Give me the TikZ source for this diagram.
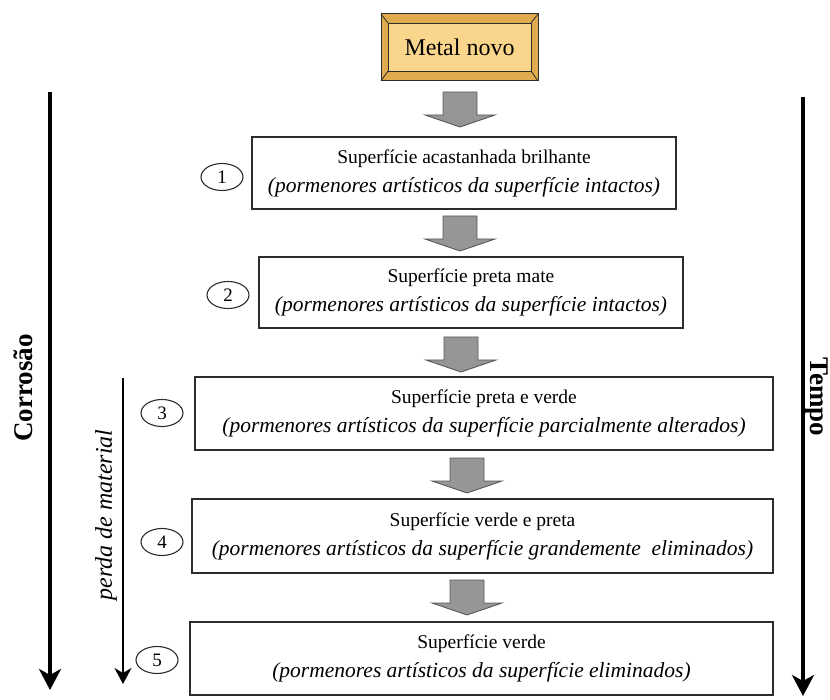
\documentclass[tikz,border=0pt]{standalone}
\usepackage{fontspec}
\setmainfont{Liberation Serif}
\usetikzlibrary{arrows.meta,shapes.geometric}
\definecolor{bevel}{RGB}{224,170,78}
\definecolor{face}{RGB}{250,214,140}
\definecolor{garrfill}{RGB}{150,150,150}
\definecolor{edge}{RGB}{45,45,45}
\newcommand{\subline}[1]{{\fontsize{21.5}{29}\selectfont\itshape #1}}
\tikzset{
  stagebox/.style={draw=edge, line width=1.1pt, fill=white, align=center, inner sep=0pt,
    font=\fontsize{19.5}{29}\selectfont},
  numoval/.style={ellipse, draw=edge, line width=1.1pt, minimum width=42pt, minimum height=27pt,
    inner sep=0pt, font=\fontsize{19}{19}\selectfont},
  bigarrow/.style={line width=4pt, -{Stealth[length=21pt,width=22pt,inset=6pt]}},
  thinarrow/.style={line width=1.4pt, -{Stealth[length=16pt,width=17pt,inset=5pt]}},
  sidelabel/.style={font=\fontsize{27}{27}\selectfont\bfseries, inner sep=0pt},
  garrstyle/.style={draw=black!65, line width=0.9pt, fill=garrfill, line join=miter},
  garr/.pic={\draw[garrstyle] (-17,0) -- (17,0) -- (17,23) -- (35,23) -- (0,35) -- (-35,23) -- (-17,23) -- cycle;}
}
\begin{document}
\begin{tikzpicture}[x=1pt,y=-1pt]
\useasboundingbox (0,0) rectangle (830,700);
% Metal novo bevelled box
\filldraw[draw=edge, line width=1pt, fill=bevel] (381,14) rectangle (538,81);
\draw[edge, line width=0.8pt] (381,14) -- (388,23) (538,14) -- (531,23) (381,81) -- (388,71) (538,81) -- (531,71);
\node[draw=edge, line width=0.8pt, fill=face, minimum width=143pt, minimum height=48pt, inner sep=0pt,
  font=\fontsize{24}{24}\selectfont] (m) at (459.5,47) {Metal novo};
% stage boxes
\node[stagebox, minimum width=424pt, minimum height=72pt] (b1) at (464,173)
  {Superfície acastanhada brilhante\\\subline{(pormenores artísticos da superfície intactos)}};
\node[stagebox, minimum width=424pt, minimum height=71pt] (b2) at (471,292.5)
  {Superfície preta mate\\\subline{(pormenores artísticos da superfície intactos)}};
\node[stagebox, minimum width=578pt, minimum height=73pt] (b3) at (484,413.5)
  {Superfície preta e verde\\\subline{(pormenores artísticos da superfície parcialmente alterados)}};
\node[stagebox, minimum width=581pt, minimum height=74pt] (b4) at (482.5,536)
  {Superfície verde e preta\\\subline{(pormenores artísticos da superfície grandemente\ \ eliminados)}};
\node[stagebox, minimum width=583pt, minimum height=73pt] (b5) at (481.5,658.5)
  {Superfície verde\\\subline{(pormenores artísticos da superfície eliminados)}};
% numbers
\node[numoval] (n1) at (222,177) {1};
\node[numoval] (n2) at (228,295) {2};
\node[numoval] (n3) at (162,413) {3};
\node[numoval] (n4) at (162,542) {4};
\node[numoval] (n5) at (157,660) {5};
% grey block arrows
\coordinate (a1) at (460,92);
\coordinate (a2) at (460,216);
\coordinate (a3) at (461,337);
\coordinate (a4) at (467,458);
\coordinate (a5) at (467,580);
\foreach \a in {a1,a2,a3,a4,a5} \pic at (\a) {garr};
% side arrows
\coordinate (cTop) at (50,92);
\coordinate (cBot) at (50,690);
\draw[bigarrow] (cTop) -- (cBot);
\node[sidelabel, rotate=90] (corr) at (23.5,388) {Corrosão};
\coordinate (pTop) at (123,378);
\coordinate (pBot) at (123,684);
\draw[thinarrow] (pTop) -- (pBot);
\node[font=\fontsize{24}{24}\selectfont\itshape, inner sep=0pt, rotate=90] (perda) at (106,515) {perda de material};
\coordinate (tTop) at (803,97);
\coordinate (tBot) at (803,696);
\draw[bigarrow] (tTop) -- (tBot);
\node[sidelabel, rotate=-90] (tempo) at (816,397) {Tempo};
\end{tikzpicture}
\end{document}
